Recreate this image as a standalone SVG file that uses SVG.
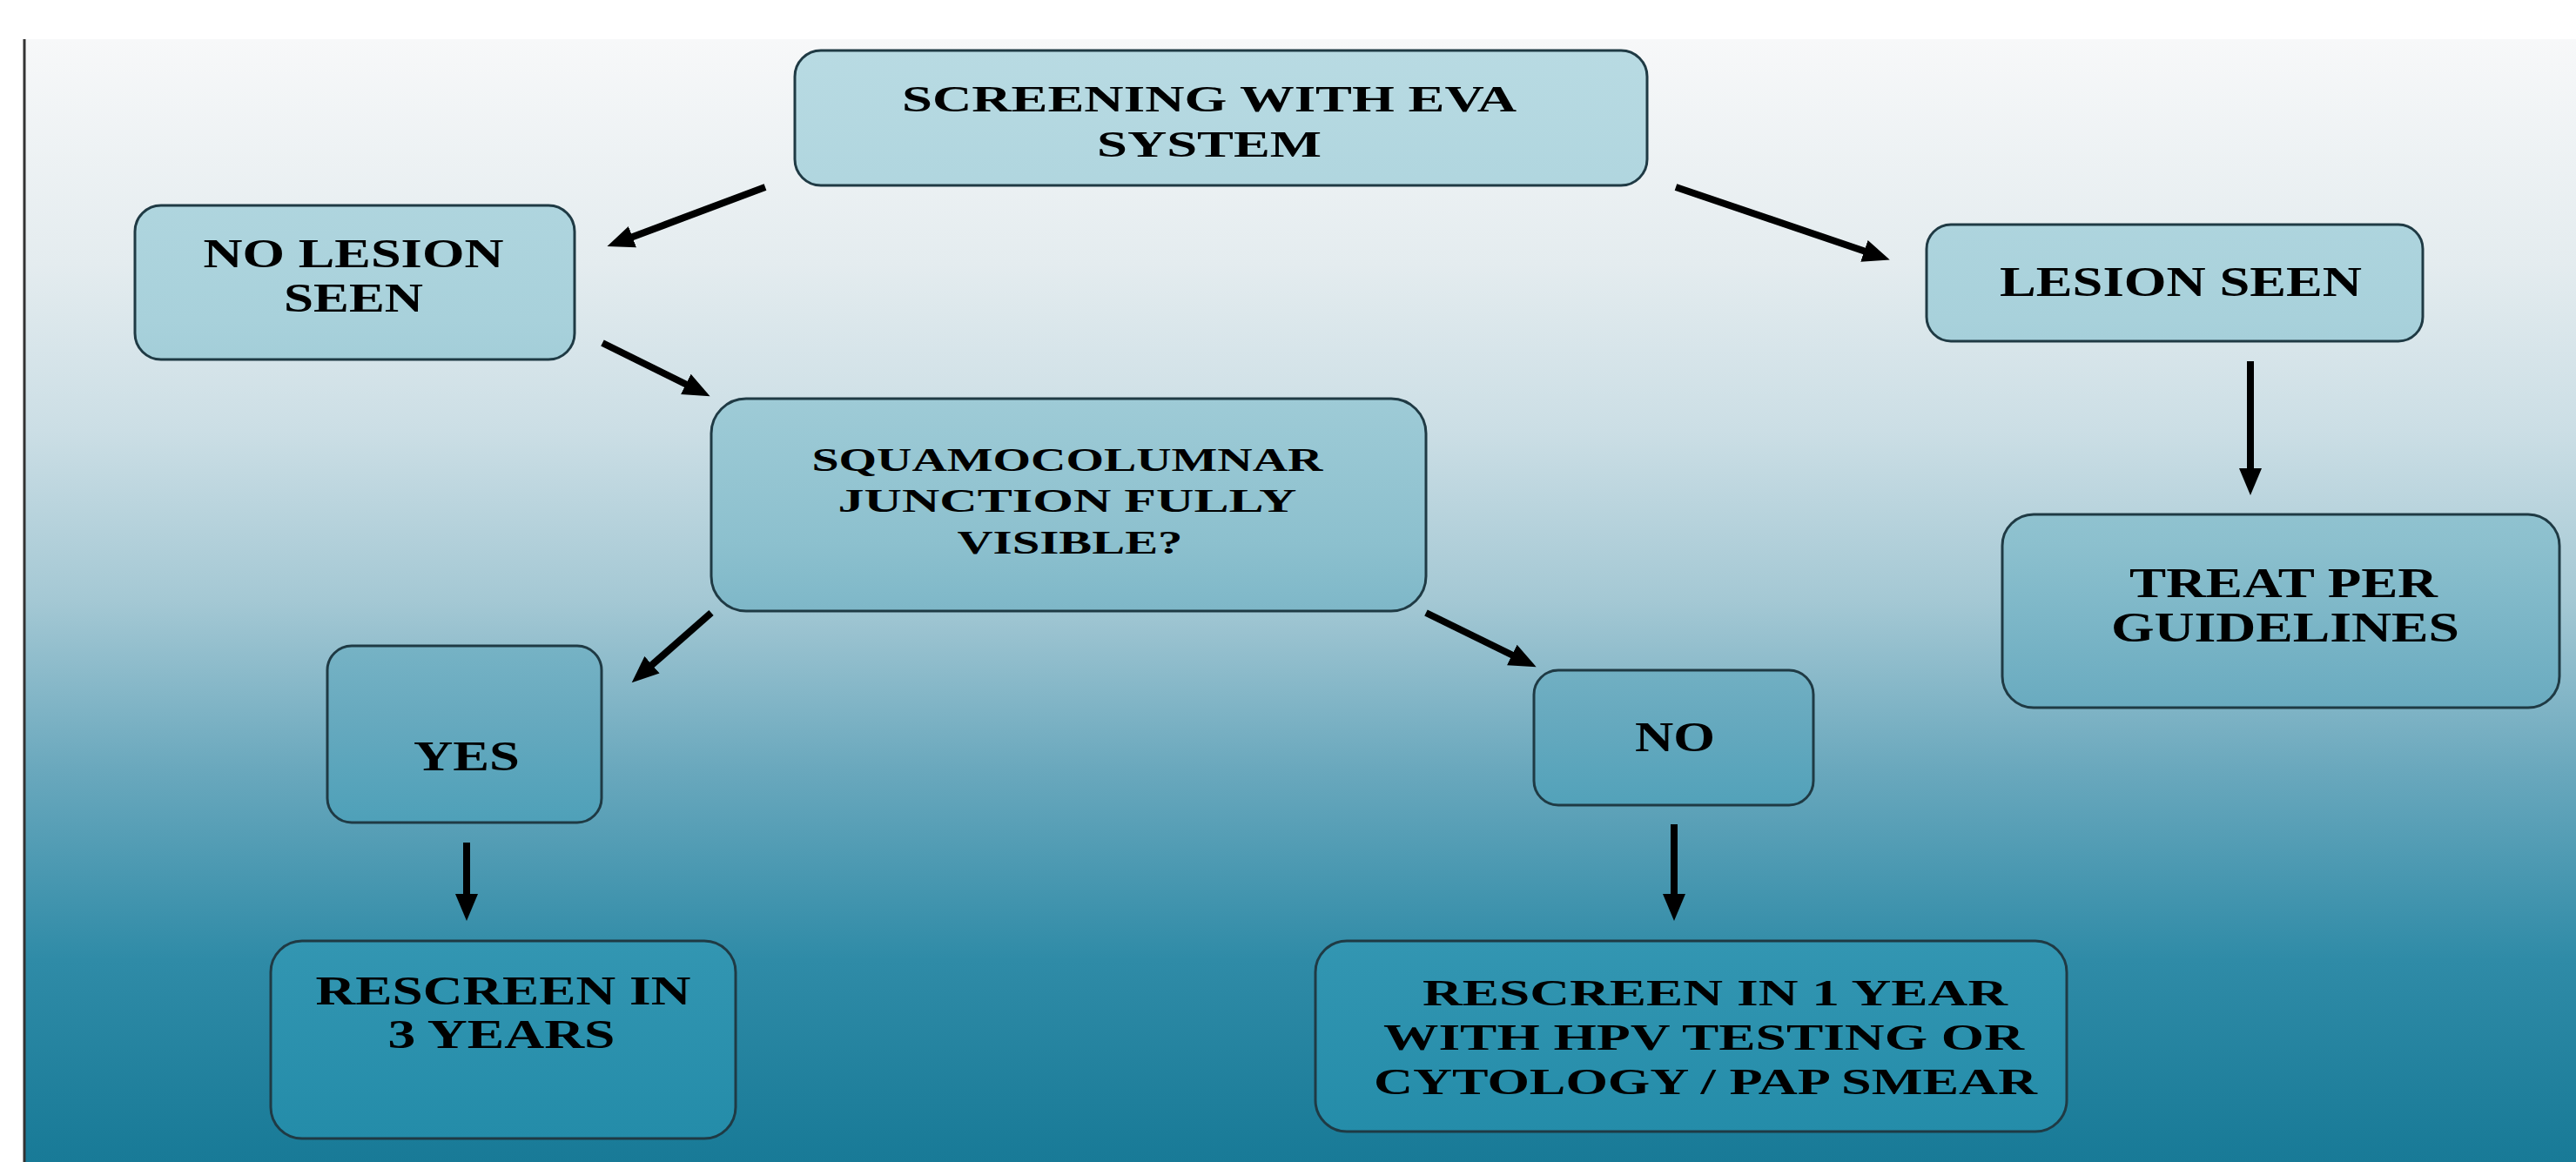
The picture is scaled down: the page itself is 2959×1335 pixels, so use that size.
<svg xmlns="http://www.w3.org/2000/svg" width="2959" height="1335" viewBox="0 0 2959 1335">
<defs>
<linearGradient id="bg" gradientUnits="userSpaceOnUse" x1="0" y1="45" x2="0" y2="1335">
<stop offset="0" stop-color="#f7f8f9"/>
<stop offset="0.2" stop-color="#e4ecef"/>
<stop offset="0.35" stop-color="#cbdee5"/>
<stop offset="0.5" stop-color="#a4c8d4"/>
<stop offset="0.65" stop-color="#6aa8bd"/>
<stop offset="0.82" stop-color="#2f8ba7"/>
<stop offset="1" stop-color="#187a97"/>
</linearGradient>
<linearGradient id="box" gradientUnits="userSpaceOnUse" x1="0" y1="45" x2="0" y2="1335">
<stop offset="0" stop-color="#b9dbe3"/>
<stop offset="0.25" stop-color="#a8d1db"/>
<stop offset="0.45" stop-color="#8cc0ce"/>
<stop offset="0.6" stop-color="#68aabf"/>
<stop offset="0.8" stop-color="#3396b2"/>
<stop offset="1" stop-color="#228ba8"/>
</linearGradient>
<marker id="ah" markerUnits="userSpaceOnUse" markerWidth="32" markerHeight="28" viewBox="0 0 32 28" refX="8" refY="14" orient="auto">
<path d="M0,1 L31,14 L0,27 z" fill="#000"/>
</marker>
</defs>
<style>
.nb{fill:url(#box);stroke:#1f3a44;stroke-width:3}
.t{font-family:"Liberation Serif","Times New Roman",serif;font-weight:bold;font-size:48px;fill:#000;text-anchor:middle}
.c{stroke:#000;stroke-width:8;fill:none;marker-end:url(#ah)}
</style>
<rect x="0" y="0" width="2959" height="1335" fill="#ffffff"/>
<rect x="28" y="45" width="2931" height="1290" fill="url(#bg)"/>
<line x1="28" y1="45" x2="28" y2="1335" stroke="#333" stroke-width="3"/>

<g id="connectors">
<line class="c" x1="879" y1="215" x2="719" y2="275"/>
<line class="c" x1="1925" y1="215" x2="2149" y2="291"/>
<line class="c" x1="692" y1="394" x2="795" y2="445"/>
<line class="c" x1="2585" y1="415" x2="2585" y2="546"/>
<line class="c" x1="817" y1="704" x2="743" y2="769"/>
<line class="c" x1="1638" y1="704" x2="1744" y2="756"/>
<line class="c" x1="536" y1="968" x2="536" y2="1035"/>
<line class="c" x1="1923" y1="947" x2="1923" y2="1035"/>
</g>

<g id="n-screening">
<rect class="nb" x="913" y="58" width="979" height="155" rx="30"/>
<text class="t" x="1389" y="128" style="font-size:42px" textLength="706" lengthAdjust="spacingAndGlyphs">SCREENING WITH EVA</text>
<text class="t" x="1389" y="180" style="font-size:42px" textLength="258" lengthAdjust="spacingAndGlyphs">SYSTEM</text>
</g>
<g id="n-nolesion">
<rect class="nb" x="155" y="236" width="505" height="177" rx="30"/>
<text class="t" x="406" y="307" style="font-size:47px" textLength="345" lengthAdjust="spacingAndGlyphs">NO LESION</text>
<text class="t" x="406" y="358" style="font-size:47px" textLength="160" lengthAdjust="spacingAndGlyphs">SEEN</text>
</g>
<g id="n-lesion">
<rect class="nb" x="2213" y="258" width="570" height="134" rx="28"/>
<text class="t" x="2505" y="340" textLength="416" lengthAdjust="spacingAndGlyphs">LESION SEEN</text>
</g>
<g id="n-squamo">
<rect class="nb" x="817" y="458" width="821" height="244" rx="40"/>
<text class="t" x="1226" y="541" style="font-size:38px" textLength="587" lengthAdjust="spacingAndGlyphs">SQUAMOCOLUMNAR</text>
<text class="t" x="1226" y="588" style="font-size:38px" textLength="527" lengthAdjust="spacingAndGlyphs">JUNCTION FULLY</text>
<text class="t" x="1229" y="636" style="font-size:38px" textLength="259" lengthAdjust="spacingAndGlyphs">VISIBLE?</text>
</g>
<g id="n-treat">
<rect class="nb" x="2300" y="591" width="640" height="222" rx="36"/>
<text class="t" x="2623" y="686" textLength="354" lengthAdjust="spacingAndGlyphs">TREAT PER</text>
<text class="t" x="2625" y="737" textLength="400" lengthAdjust="spacingAndGlyphs">GUIDELINES</text>
</g>
<g id="n-yes">
<rect class="nb" x="376" y="742" width="315" height="203" rx="28"/>
<text class="t" x="536" y="885" textLength="122" lengthAdjust="spacingAndGlyphs">YES</text>
</g>
<g id="n-no">
<rect class="nb" x="1762" y="770" width="321" height="155" rx="28"/>
<text class="t" x="1924" y="863" textLength="92" lengthAdjust="spacingAndGlyphs">NO</text>
</g>
<g id="n-rescreen3">
<rect class="nb" x="311" y="1081" width="534" height="227" rx="36"/>
<text class="t" x="578" y="1154" style="font-size:46px" textLength="431" lengthAdjust="spacingAndGlyphs">RESCREEN IN</text>
<text class="t" x="576" y="1204" style="font-size:46px" textLength="261" lengthAdjust="spacingAndGlyphs">3 YEARS</text>
</g>
<g id="n-rescreen1">
<rect class="nb" x="1511" y="1081" width="863" height="219" rx="36"/>
<text class="t" x="1970" y="1155" style="font-size:42px" textLength="672" lengthAdjust="spacingAndGlyphs">RESCREEN IN 1 YEAR</text>
<text class="t" x="1957" y="1206" style="font-size:42px" textLength="736" lengthAdjust="spacingAndGlyphs">WITH HPV TESTING OR</text>
<text class="t" x="1959" y="1257" style="font-size:42px" textLength="762" lengthAdjust="spacingAndGlyphs">CYTOLOGY / PAP SMEAR</text>
</g>
</svg>
